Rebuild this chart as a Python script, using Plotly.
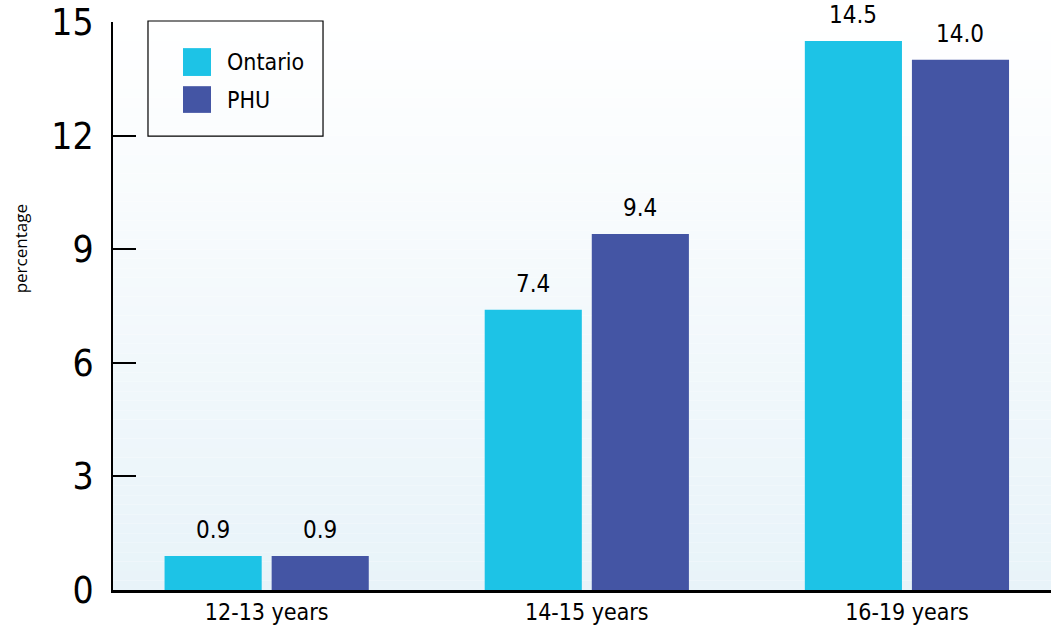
# Smoking prevalence by age group - Ontario vs PHU
import plotly.graph_objects as go

# Data
age_groups = ['12-13 years', '14-15 years', '16-19 years']
ontario = [0.9, 7.4, 14.5]
phu = [0.9, 9.4, 14.0]
series_names = ['Ontario', 'PHU']
y_ticks = [0, 3, 6, 9, 12, 15]

# Colours / fonts
ONT_COLOR = '#1dc3e6'
PHU_COLOR = '#4455a4'
FONT = 'DejaVu Sans Condensed, DejaVu Sans, sans-serif'


def fnt(size, family=FONT):
    return dict(size=size, color='black', family=family)


fig = go.Figure()
fig.add_trace(go.Bar(x=age_groups, y=ontario, name=series_names[0],
                     marker=dict(color=ONT_COLOR, line=dict(width=0))))
fig.add_trace(go.Bar(x=age_groups, y=phu, name=series_names[1],
                     marker=dict(color=PHU_COLOR, line=dict(width=0))))

# value labels above bars
annotations = []
for vals, shift in [(ontario, -53.5), (phu, 53.5)]:
    for cat, v in zip(age_groups, vals):
        annotations.append(dict(x=cat, y=v, xref='x', yref='y', text=f'{v:.1f}',
                                showarrow=False, xshift=shift, yshift=10,
                                yanchor='bottom', font=fnt(24)))

# y-axis title
annotations.append(dict(x=-0.099, y=0.60, xref='paper', yref='paper', text='percentage',
                        textangle=-90, showarrow=False, xanchor='center', yanchor='middle',
                        font=dict(size=17, color='black', family='Open Sans, sans-serif')))

shapes = []
# gradient background of plot area
n = 60
top = (255, 255, 255)
bot = (232, 243, 249)
for i in range(n):
    t = (i + 0.5) / n
    c = tuple(round(bot[k] + (top[k] - bot[k]) * t) for k in range(3))
    shapes.append(dict(type='rect', xref='paper', yref='paper', x0=0, x1=1,
                       y0=i / n, y1=(i + 1) / n, fillcolor='rgb(%d,%d,%d)' % c,
                       line=dict(width=0), layer='below'))

# legend drawn by hand (big swatches)
shapes.append(dict(type='rect', xref='paper', yref='paper', x0=0.0373, x1=0.2239,
                   y0=0.799, y1=1.0018, line=dict(color='black', width=1.2),
                   fillcolor='rgba(0,0,0,0)', layer='above'))
for name, col, y0, y1, ty in [(series_names[0], ONT_COLOR, 0.905, 0.954, 0.9296),
                              (series_names[1], PHU_COLOR, 0.840, 0.887, 0.8627)]:
    shapes.append(dict(type='rect', xref='paper', yref='paper', x0=0.0746, x1=0.1045,
                       y0=y0, y1=y1, fillcolor=col, line=dict(width=0), layer='above'))
    annotations.append(dict(x=0.1194, y=ty, xref='paper', yref='paper', text=name,
                            showarrow=False, xanchor='left', yanchor='middle',
                            font=fnt(23)))

fig.update_layout(
    width=1051, height=631,
    margin=dict(l=113, r=0, t=22, b=41),
    paper_bgcolor='white',
    plot_bgcolor='rgba(0,0,0,0)',
    barmode='group',
    bargap=0.331,
    bargroupgap=0.093,
    showlegend=False,
    shapes=shapes,
    annotations=annotations,
    font=dict(family=FONT, color='black'),
)
fig.update_xaxes(range=[-0.48, 2.45], showline=True, linecolor='black', linewidth=2.5,
                 ticks='', showgrid=False, tickfont=fnt(23), automargin=False,
                 ticklabelstandoff=0)
fig.update_yaxes(range=[0, 15], tickvals=y_ticks, showline=True, linecolor='black',
                 linewidth=2, ticks='inside', ticklen=23, tickwidth=2, tickcolor='black',
                 showgrid=False, zeroline=False, tickfont=fnt(37), automargin=False,
                 ticklabelstandoff=10, ticklabeloverflow='allow')

for tr in fig.data:
    tr.cliponaxis = False

# drop the default 8px page margin so the figure sits at the window corner
fig.write_html('out.html', config={'displayModeBar': False},
               post_script="document.body.style.margin='0';")
